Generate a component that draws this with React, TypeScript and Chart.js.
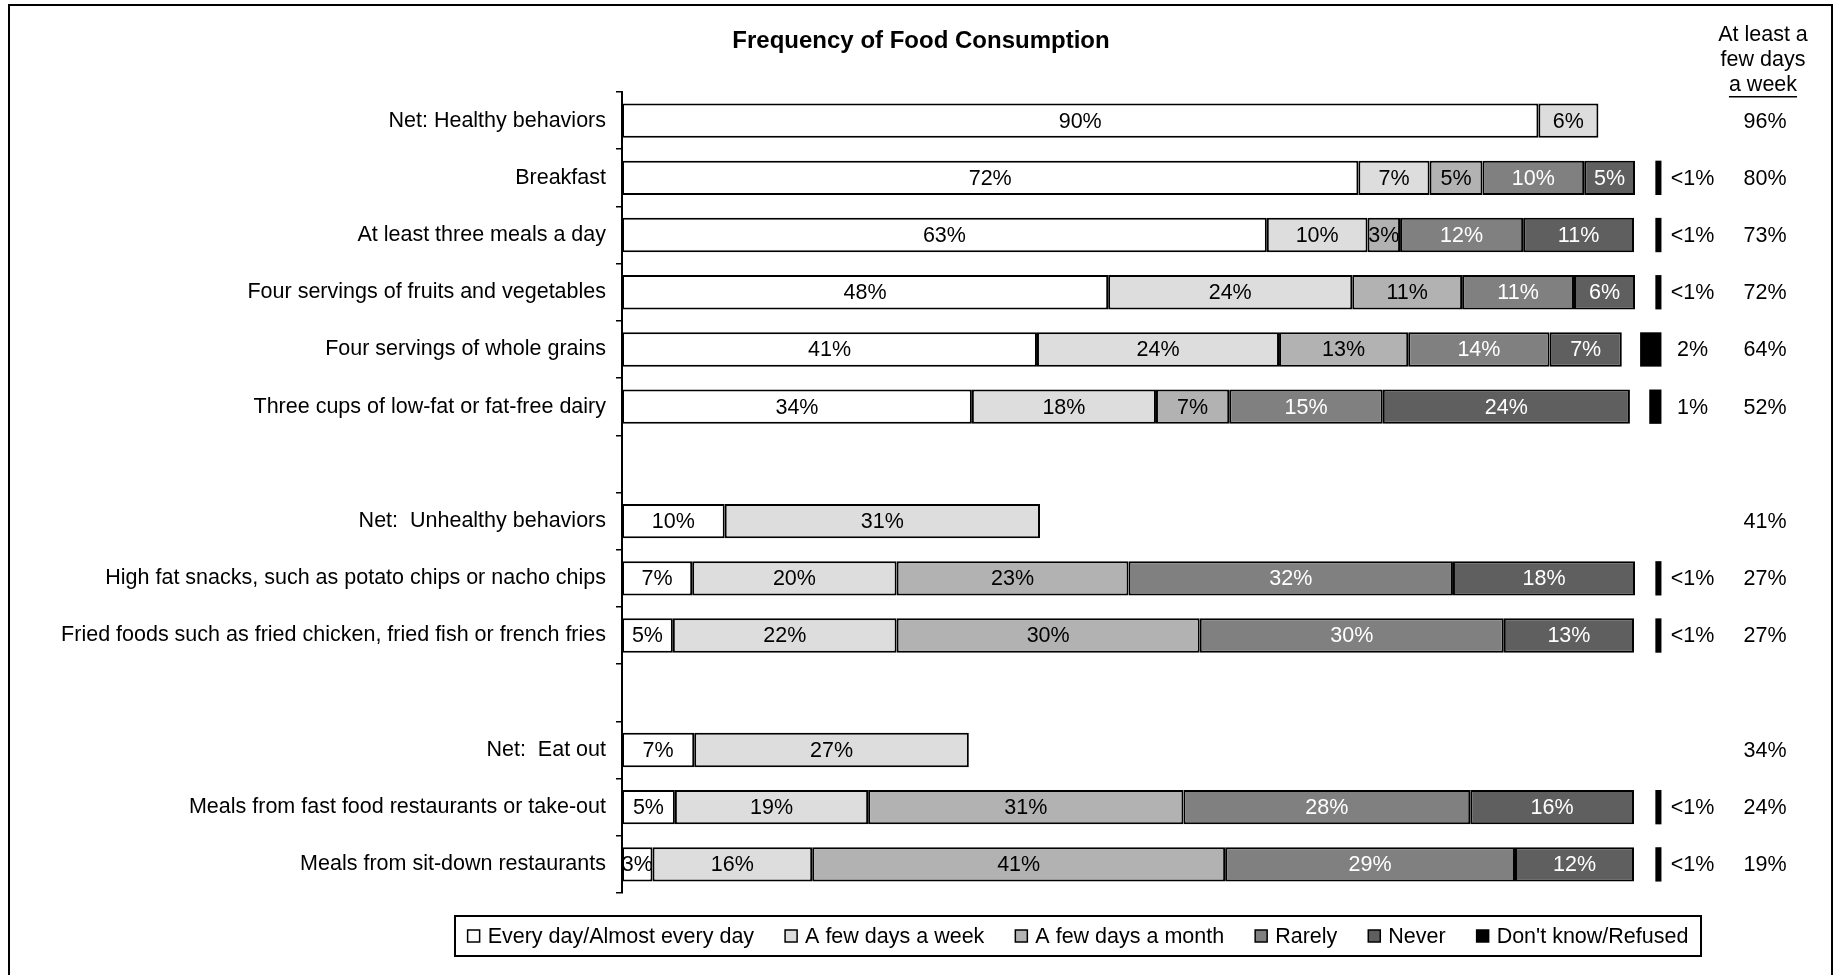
import React, { useEffect, useRef } from "react";
import { Chart, registerables } from "chart.js";

Chart.register(...registerables);

const FONT = "'Liberation Sans', Arial, Helvetica, sans-serif";

const TITLE = "Frequency of Food Consumption";

const categories = [
  "Net: Healthy behaviors",
  "Breakfast",
  "At least three meals a day",
  "Four servings of fruits and vegetables",
  "Four servings of whole grains",
  "Three cups of low-fat or fat-free dairy",
  "",
  "Net:  Unhealthy behaviors",
  "High fat snacks, such as potato chips or nacho chips",
  "Fried foods such as fried chicken, fried fish or french fries",
  "",
  "Net:  Eat out",
  "Meals from fast food restaurants or take-out",
  "Meals from sit-down restaurants",
];

// Values (labels show them rounded)
const everyDay = [90.1, 72.4, 63.4, 47.8, 40.8, 34.4, null, 10.1, 6.9, 5.0, null, 7.1, 5.2, 3.0];
const fewWeek = [5.9, 7.0, 9.9, 24.0, 23.8, 18.1, null, 31.0, 20.1, 22.0, null, 27.0, 19.0, 15.7];
const fewMonth = [null, 5.2, 3.2, 10.8, 12.7, 7.2, null, null, 22.8, 29.8, null, null, 31.0, 40.6];
const rarely = [null, 10.0, 12.1, 11.0, 13.9, 15.1, null, null, 31.9, 29.9, null, null, 28.2, 28.5];
const never = [null, 5.0, 10.9, 6.0, 7.1, 24.3, null, null, 17.9, 12.8, null, null, 16.1, 11.7];
const dontKnow = [null, 0.6, 0.6, 0.6, 2.1, 1.2, null, null, 0.6, 0.6, null, null, 0.6, 0.6];
const dontKnowLabels = ["", "<1%", "<1%", "<1%", "2%", "1%", "", "", "<1%", "<1%", "", "", "<1%", "<1%"];

const weeklyHeader = ["At least a", "few days", "a week"];
const weekly = [96, 80, 73, 72, 64, 52, null, 41, 27, 27, null, 34, 24, 19];

const seriesNames = [
  "Every day/Almost every day",
  "A few days a week",
  "A few days a month",
  "Rarely",
  "Never",
  "Don't know/Refused",
];
const seriesColors = ["#FFFFFF", "#DDDDDD", "#B2B2B2", "#808080", "#5F5F5F", "#000000"];
const labelColors = ["#000000", "#000000", "#000000", "#FFFFFF", "#FFFFFF"];

const DK_END = 102.2;
const X_MAX = 102.45;

const decorPlugin = {
  id: "decor",
  beforeDraw(chart: any) {
    const ctx = chart.ctx;
    ctx.save();
    ctx.fillStyle = "#FFFFFF";
    ctx.fillRect(0, 0, chart.width, chart.height);
    ctx.strokeStyle = "#000000";
    ctx.lineWidth = 2;
    ctx.strokeRect(9, 5, 1823, 1000);
    ctx.restore();
  },
  afterDatasetsDraw(chart: any) {
    const ctx = chart.ctx;
    const yScale = chart.scales.y;
    ctx.save();
    ctx.font = `21.5px ${FONT}`;
    ctx.textAlign = "center";
    ctx.textBaseline = "middle";
    for (let d = 0; d < 5; d++) {
      const meta = chart.getDatasetMeta(d);
      const data = chart.data.datasets[d].data;
      meta.data.forEach((el: any, i: number) => {
        const v = data[i];
        if (v == null) return;
        const p = el.getProps(["x", "base", "y"], true);
        ctx.fillStyle = labelColors[d];
        ctx.fillText(`${Math.round(v)}%`, (p.x + p.base) / 2, p.y + 1);
      });
    }
    const dkMeta = chart.getDatasetMeta(5);
    dkMeta.data.forEach((el: any, i: number) => {
      if (!dontKnowLabels[i]) return;
      const p = el.getProps(["x", "y"], true);
      ctx.fillStyle = "#000000";
      ctx.fillText(dontKnowLabels[i], p.x + 31, p.y + 1);
    });
    // weekly column
    weekly.forEach((v, i) => {
      if (v == null) return;
      ctx.fillStyle = "#000000";
      ctx.fillText(`${v}%`, 1765, yScale.getPixelForValue(i) + 1);
    });
    // header
    weeklyHeader.forEach((t, i) => {
      const y = 35 + i * 25;
      ctx.fillText(t, 1763, y);
      if (i === weeklyHeader.length - 1) {
        const w = ctx.measureText(t).width;
        ctx.fillRect(1763 - w / 2, y + 11, w, 1.5);
      }
    });
    // title
    ctx.font = `bold 24px ${FONT}`;
    ctx.fillText(TITLE, 921, 41);

    // legend
    ctx.font = `21.5px ${FONT}`;
    const boxL = 455, boxR = 1701, boxT = 916, boxB = 956;
    ctx.lineWidth = 2;
    ctx.strokeStyle = "#000000";
    ctx.strokeRect(boxL, boxT, boxR - boxL, boxB - boxT);
    const sq = 12, gapSq = 8, gapItem = 31;
    const widths = seriesNames.map((n) => sq + gapSq + ctx.measureText(n).width);
    const total = widths.reduce((a, b) => a + b, 0) + gapItem * (seriesNames.length - 1);
    let x = (boxL + boxR) / 2 - total / 2;
    const cy = (boxT + boxB) / 2;
    ctx.textAlign = "left";
    seriesNames.forEach((n, i) => {
      ctx.fillStyle = seriesColors[i];
      ctx.fillRect(x, cy - 6, sq, sq);
      ctx.lineWidth = 1.5;
      ctx.strokeStyle = "#000000";
      ctx.strokeRect(x, cy - 6, sq, sq);
      ctx.fillStyle = "#000000";
      ctx.fillText(n, x + sq + gapSq, cy + 1);
      x += widths[i] + gapItem;
    });
    ctx.restore();
  },
};

export default function App() {
  const canvasRef = useRef<HTMLCanvasElement | null>(null);

  useEffect(() => {
    document.body.style.margin = "0";
    const canvas = canvasRef.current;
    if (!canvas) return;
    const mainSeries = [everyDay, fewWeek, fewMonth, rarely, never];
    const datasets: any[] = mainSeries.map((s, i) => ({
      label: seriesNames[i],
      data: s,
      backgroundColor: seriesColors[i],
      borderColor: "#000000",
      borderWidth: 2,
      borderSkipped: false,
      stack: "main",
      grouped: false,
      barPercentage: 0.6,
      categoryPercentage: 1,
    }));
    datasets.push({
      label: seriesNames[5],
      data: dontKnow.map((v) => (v == null ? null : [DK_END - v, DK_END])),
      backgroundColor: seriesColors[5],
      borderColor: "#000000",
      borderWidth: 0,
      stack: "dk",
      grouped: false,
      barPercentage: 0.6,
      categoryPercentage: 1,
    });

    const chart = new Chart(canvas, {
      type: "bar",
      data: { labels: categories, datasets },
      options: {
        indexAxis: "y",
        responsive: false,
        animation: false,
        devicePixelRatio: 1,
        layout: { padding: { left: 10, right: 173, top: 92, bottom: 82 } },
        plugins: {
          legend: { display: false },
          title: { display: false },
          tooltip: { enabled: false },
        },
        scales: {
          x: {
            display: false,
            stacked: true,
            min: 0,
            max: X_MAX,
          },
          y: {
            stacked: true,
            afterFit: (scale: any) => {
              scale.width = 612;
            },
            grid: {
              display: true,
              drawOnChartArea: false,
              drawTicks: true,
              tickLength: 6,
              color: "#000000",
              lineWidth: 1.5,
              offset: true,
            },
            border: { display: true, color: "#000000", width: 2 },
            ticks: {
              color: "#000000",
              padding: 10,
              autoSkip: false,
              font: { family: FONT, size: 21.5 },
            },
          },
        },
      },
      plugins: [decorPlugin],
    });
    return () => chart.destroy();
  }, []);

  return (
    <div style={{ width: 1837, height: 975 }}>
      <canvas ref={canvasRef} width={1837} height={975} style={{ display: "block" }} />
    </div>
  );
}
